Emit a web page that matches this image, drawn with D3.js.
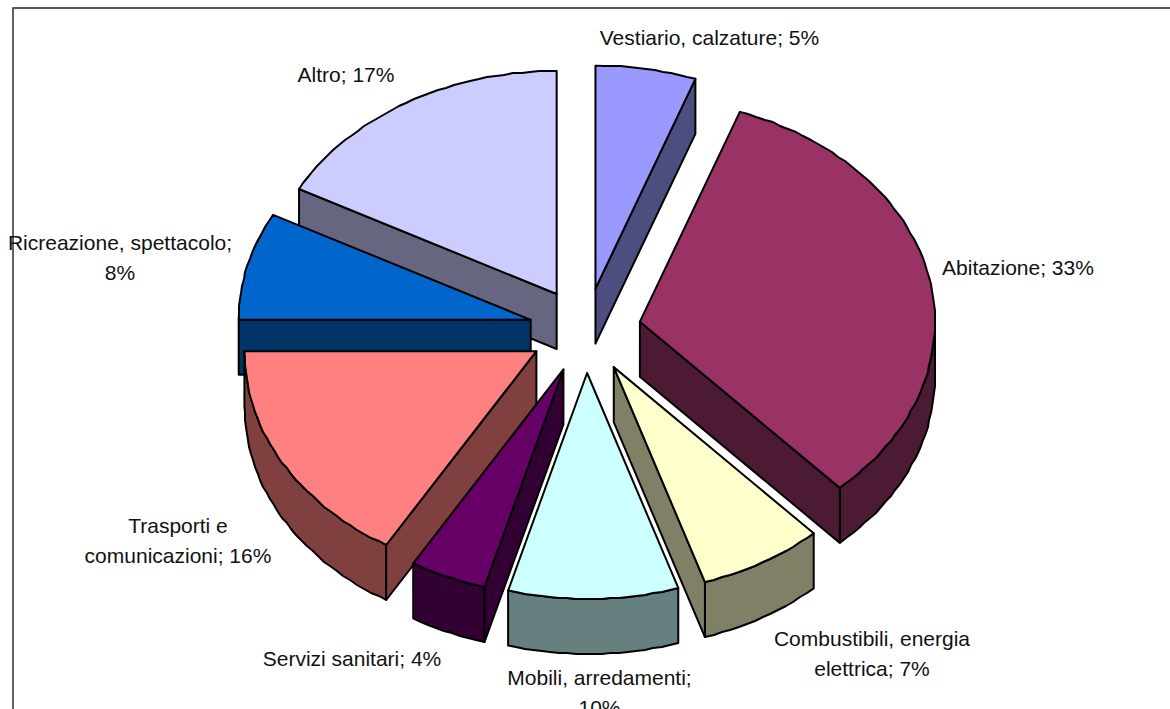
<!DOCTYPE html>
<html><head><meta charset="utf-8">
<script src="https://cdn.jsdelivr.net/npm/d3@7"></script>
<style>html,body{margin:0;padding:0;background:#fff;overflow:hidden}svg{display:block}
text{font-family:"Liberation Sans",Arial,sans-serif;font-size:21px;fill:#111}</style>
</head><body><svg id="c" width="1170" height="709"></svg>
<script>
const categories=["Vestiario, calzature","Abitazione","Combustibili, energia elettrica","Mobili, arredamenti","Servizi sanitari","Trasporti e comunicazioni","Ricreazione, spettacolo","Altro"];
const values=[5.5,32.65,6.85,9.36,4.24,16.4,7.8,17.2];
const percentLabels=["5%","33%","7%","10%","4%","16%","8%","17%"];
const topColors=["#9999FF","#993366","#FFFFCC","#CCFFFF","#660066","#FF8080","#0066CC","#CCCCFF"];
const sideColors=["#4D4D80","#4D1A33","#808066","#668080","#330033","#804040","#003366","#666680"];
const labelLines=[["Vestiario, calzature; 5%"],["Abitazione; 33%"],["Combustibili, energia","elettrica; 7%"],["Mobili, arredamenti;","10%"],["Servizi sanitari; 4%"],["Trasporti e","comunicazioni; 16%"],["Ricreazione, spettacolo;","8%"],["Altro; 17%"]];

// layout of the projected pie
const cx=586,cy=330,depth=55;
const labelPos=[[709.5,45],[1018,275],[872,646],[599.5,685],[352,666],[178,533],[120,250],[346,82]];

const svg=d3.select("#c");
svg.append("path").attr("d",d3.line()([[13,709],[13,8],[1170,8]])).attr("fill","none").attr("stroke","#222").attr("stroke-width",1.4);

const arcs=d3.pie().sort(null).value(d=>d)(values);
const line=d3.line();
const sx=d3.scaleLinear().domain([-1,0,1]).range([-292,0,295]);
const sy=d3.scaleLinear().domain([-1,0,1]).range([-223,0,226]);
const ex=d3.scaleLinear().domain([-1,0,1]).range([-57,0,55]);
const ey=d3.scaleLinear().domain([-1,0,1]).range([-42,0,43]);
const slices=arcs.map((a,i)=>{
  const mid=(a.startAngle+a.endAngle)/2;
  const ox=cx+ex(Math.sin(mid)), oy=cy+ey(-Math.cos(mid));
  const pt=t=>[ox+sx(Math.sin(t)),oy+sy(-Math.cos(t))];
  const n=Math.max(4,Math.round((a.endAngle-a.startAngle)/0.03));
  const rim=d3.range(n+1).map(k=>{
    const p=pt(a.startAngle+(a.endAngle-a.startAngle)*k/n);
    return (k===0||k===n)?p:[Math.round(p[0]),Math.round(p[1])];
  });
  return {i,mid,apex:[ox,oy],rim,a,pt};
});
const down=p=>[p[0],p[1]+depth];
const order=slices.slice().sort((p,q)=>p.apex[1]-q.apex[1]);
const g=svg.append("g");
order.forEach(s=>{
  const style=(sel,c)=>sel.attr("fill",c).attr("stroke","#000").attr("stroke-width",2).attr("stroke-linejoin","round");
  const {apex,rim,a}=s;
  const first=rim[0], last=rim[rim.length-1];
  const st=(a.endAngle-a.startAngle)/(rim.length-1);
  const front=rim.filter((p,k)=>{const t=a.startAngle+st*k;return t>=Math.PI/2-1e-6&&t<=1.5*Math.PI+1e-6;});
  if(front.length>1){
    style(g.append("path").attr("d",line([...front,...front.slice().reverse().map(down)])+"Z"),sideColors[s.i]);
  }
  if(Math.sin(a.startAngle)<-1e-6)
    style(g.append("path").attr("d",line([apex,first,down(first),down(apex)])+"Z"),sideColors[s.i]);
  if(Math.sin(a.endAngle)>1e-6)
    style(g.append("path").attr("d",line([apex,last,down(last),down(apex)])+"Z"),sideColors[s.i]);
  style(g.append("path").attr("d",line([apex,...rim])+"Z"),topColors[s.i]);
});
const tg=svg.append("g");
labelLines.forEach((ls,i)=>{
  ls.forEach((t,k)=>tg.append("text").attr("x",labelPos[i][0]).attr("y",labelPos[i][1]+k*30).attr("text-anchor","middle").text(t));
});
</script></body></html>
